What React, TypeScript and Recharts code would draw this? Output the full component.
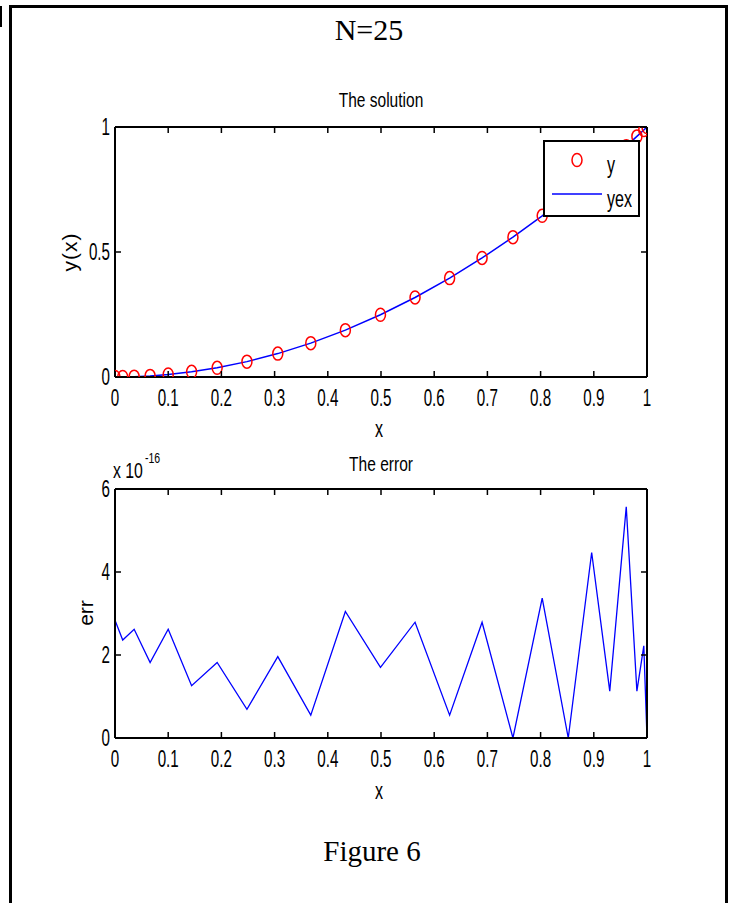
import React from 'react';
import { LineChart, Line, XAxis, YAxis, Legend } from 'recharts';

// collocation points and values
const xPoints = [0, 0.0145, 0.036, 0.066, 0.1, 0.144, 0.192, 0.248, 0.306, 0.368, 0.433, 0.499, 0.564, 0.629, 0.69, 0.748, 0.803, 0.852, 0.896, 0.93, 0.961, 0.981, 0.994, 1];
const yValues = [0, 0.0002, 0.0013, 0.0044, 0.01, 0.0207, 0.0369, 0.0615, 0.0936, 0.1354, 0.1875, 0.249, 0.3181, 0.3956, 0.4761, 0.5595, 0.6448, 0.7259, 0.8028, 0.8649, 0.9235, 0.9624, 0.988, 1];
const yexValues = [0, 0.0002, 0.0013, 0.0044, 0.01, 0.0207, 0.0369, 0.0615, 0.0936, 0.1354, 0.1875, 0.249, 0.3181, 0.3956, 0.4761, 0.5595, 0.6448, 0.7259, 0.8028, 0.8649, 0.9235, 0.9624, 0.988, 1];
// error in units of 1e-16
const errValues = [2.84, 2.36, 2.62, 1.82, 2.62, 1.26, 1.82, 0.69, 1.96, 0.55, 3.05, 1.7, 2.79, 0.55, 2.79, 0, 3.37, 0, 4.47, 1.13, 5.57, 1.13, 2.22, 0];

const xTicks = [0, 0.1, 0.2, 0.3, 0.4, 0.5, 0.6, 0.7, 0.8, 0.9, 1];
const yTicksTop = [0, 0.5, 1];
const yTicksErr = [0, 2, 4, 6];

const solData = xPoints.map((x, i) => ({ x, y: yValues[i], yex: yexValues[i] }));
const errData = xPoints.map((x, i) => ({ x, err: errValues[i] }));

const SANS = '"Liberation Sans", Arial, sans-serif';
const SERIF = '"Liberation Serif", "Times New Roman", serif';
const TICK = 6;

function CText({ x, y, anchor = 'middle', size = 23, sx = 0.66, children }: any) {
  return (
    <text
      transform={`translate(${x},${y}) scale(${sx},1)`}
      textAnchor={anchor}
      fontSize={size}
      fontFamily={SANS}
      fill="#000"
    >
      {children}
    </text>
  );
}

const BottomTick = (props: any) => {
  const { x, y, payload } = props;
  return (
    <g>
      <line x1={x} x2={x} y1={y} y2={y - TICK} stroke="#000" strokeWidth={1.5} />
      <CText x={x} y={y + 29}>{String(payload.value)}</CText>
    </g>
  );
};

const TopTick = (props: any) => {
  const { x, y } = props;
  return <line x1={x} x2={x} y1={y} y2={y + TICK} stroke="#000" strokeWidth={1.5} />;
};

const LeftTick = (props: any) => {
  const { x, y, payload } = props;
  return (
    <g>
      <line x1={x} x2={x + TICK} y1={y} y2={y} stroke="#000" strokeWidth={1.5} />
      <CText x={x - 5} y={y + 8} anchor="end">{String(payload.value)}</CText>
    </g>
  );
};

const RightTick = (props: any) => {
  const { x, y } = props;
  return <line x1={x} x2={x - TICK} y1={y} y2={y} stroke="#000" strokeWidth={1.5} />;
};

const CircleDot = (props: any) => {
  const { cx, cy, index } = props;
  if (cx == null || cy == null) return null;
  return <ellipse key={index} cx={cx} cy={cy} rx={5} ry={6.5} fill="none" stroke="#ff0000" strokeWidth={1.5} />;
};

const SolLegend = () => (
  <div style={{ width: 97, height: 77, boxSizing: 'border-box', border: '2px solid #000', background: '#fff' }}>
    <svg width={93} height={73} style={{ display: 'block' }}>
      <ellipse cx={32} cy={18} rx={5} ry={6.5} fill="none" stroke="#ff0000" strokeWidth={1.5} />
      <CText x={62} y={31} anchor="start" size={23} sx={0.7}>y</CText>
      <line x1={7} x2={57} y1={52} y2={52} stroke="#0000ff" strokeWidth={1.5} />
      <CText x={62} y={65} anchor="start" size={23} sx={0.7}>yex</CText>
    </svg>
  </div>
);

const axisLine = { stroke: '#000', strokeWidth: 2 };

export default function App() {
  return (
    <div style={{ position: 'absolute', left: 0, top: 0, width: 734, height: 903, background: '#fff', overflow: 'hidden' }}>
      {/* table cell frame */}
      <div style={{ position: 'absolute', left: 9, top: 5, width: 713, height: 920, borderLeft: '3px solid #000', borderTop: '3px solid #000', borderRight: '3px solid #000' }} />
      <div style={{ position: 'absolute', left: 0, top: 6, width: 2, height: 21, background: '#000' }} />

      <div style={{ position: 'absolute', left: 0, top: 80 }}>
        <LineChart width={734} height={360} data={solData} margin={{ top: 46, right: 86, bottom: 62, left: 114 }}>
          <XAxis xAxisId="b" dataKey="x" type="number" domain={[0, 1]} ticks={xTicks} interval={0} allowDataOverflow
            height={1} tickSize={0} tickMargin={0} tickLine={false} axisLine={axisLine} tick={<BottomTick />} />
          <XAxis xAxisId="t" orientation="top" dataKey="x" type="number" domain={[0, 1]} ticks={xTicks} interval={0} allowDataOverflow
            height={1} tickSize={0} tickMargin={0} tickLine={false} axisLine={axisLine} tick={<TopTick />} />
          <YAxis yAxisId="l" type="number" domain={[0, 1]} ticks={yTicksTop} interval={0} allowDataOverflow
            width={1} tickSize={0} tickMargin={0} tickLine={false} axisLine={axisLine} tick={<LeftTick />} />
          <YAxis yAxisId="r" orientation="right" type="number" domain={[0, 1]} ticks={yTicksTop} interval={0} allowDataOverflow
            width={1} tickSize={0} tickMargin={0} tickLine={false} axisLine={axisLine} tick={<RightTick />} />
          <Line xAxisId="t" yAxisId="r" dataKey="yex" type="linear" stroke="none" dot={false} activeDot={false} isAnimationActive={false} />
          <Line xAxisId="b" yAxisId="l" dataKey="yex" name="yex" type="linear" stroke="#0000ff" strokeWidth={1.5} dot={false} activeDot={false} isAnimationActive={false} />
          <Line xAxisId="b" yAxisId="l" dataKey="y" name="y" type="linear" stroke="none" dot={<CircleDot />} activeDot={false} isAnimationActive={false} />
          <Legend layout="vertical" align="center" verticalAlign="middle" content={<SolLegend />}
            wrapperStyle={{ position: 'absolute', left: 543, top: 60, width: 97, height: 77 }} />
        </LineChart>
      </div>

      <div style={{ position: 'absolute', left: 0, top: 440 }}>
        <LineChart width={734} height={380} data={errData} margin={{ top: 48, right: 86, bottom: 81, left: 114 }}>
          <XAxis xAxisId="b" dataKey="x" type="number" domain={[0, 1]} ticks={xTicks} interval={0} allowDataOverflow
            height={1} tickSize={0} tickMargin={0} tickLine={false} axisLine={axisLine} tick={<BottomTick />} />
          <XAxis xAxisId="t" orientation="top" dataKey="x" type="number" domain={[0, 1]} ticks={xTicks} interval={0} allowDataOverflow
            height={1} tickSize={0} tickMargin={0} tickLine={false} axisLine={axisLine} tick={<TopTick />} />
          <YAxis yAxisId="l" type="number" domain={[0, 6]} ticks={yTicksErr} interval={0} allowDataOverflow
            width={1} tickSize={0} tickMargin={0} tickLine={false} axisLine={axisLine} tick={<LeftTick />} />
          <YAxis yAxisId="r" orientation="right" type="number" domain={[0, 6]} ticks={yTicksErr} interval={0} allowDataOverflow
            width={1} tickSize={0} tickMargin={0} tickLine={false} axisLine={axisLine} tick={<RightTick />} />
          <Line xAxisId="t" yAxisId="r" dataKey="err" type="linear" stroke="none" dot={false} activeDot={false} isAnimationActive={false} />
          <Line xAxisId="b" yAxisId="l" dataKey="err" type="linear" stroke="#0000ff" strokeWidth={1.3} dot={false} activeDot={false} isAnimationActive={false} />
        </LineChart>
      </div>

      {/* titles and labels */}
      <svg width={734} height={903} style={{ position: 'absolute', left: 0, top: 0, pointerEvents: 'none' }}>
        <text x={369} y={40} textAnchor="middle" fontFamily={SERIF} fontSize={30} fill="#000">N=25</text>
        <CText x={381} y={107} size={21} sx={0.74}>The solution</CText>
        <CText x={379} y={437} size={23} sx={0.7}>x</CText>
        <text transform="translate(77,252) rotate(-90)" textAnchor="middle" fontFamily={SANS} fontSize={21} letterSpacing={1} fill="#000">y(x)</text>

        <CText x={381} y={471} size={21} sx={0.74}>The error</CText>
        <CText x={113} y={478} anchor="start" size={22} sx={0.72}>x 10</CText>
        <CText x={145} y={463} anchor="start" size={14} sx={0.75}>-16</CText>
        <text transform="translate(93,613) rotate(-90)" textAnchor="middle" fontFamily={SANS} fontSize={21} fill="#000">err</text>
        <CText x={379} y={799} size={23} sx={0.7}>x</CText>

        <text x={372} y={861} textAnchor="middle" fontFamily={SERIF} fontSize={29} fill="#000">Figure 6</text>
      </svg>
    </div>
  );
}
